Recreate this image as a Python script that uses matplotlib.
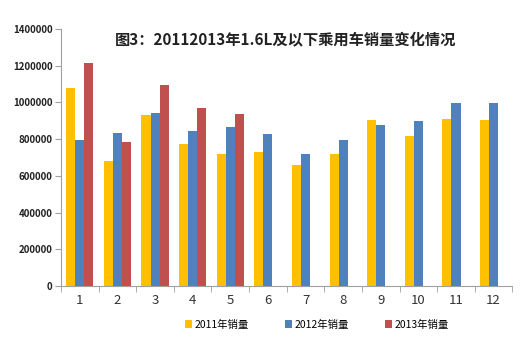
import numpy as np
import matplotlib
matplotlib.use("Agg")
import matplotlib.pyplot as plt

plt.rcParams['font.family'] = ['Noto Sans CJK SC', 'DejaVu Sans']

# Monatswerte
months = [str(m) for m in range(1, 13)]
sales2011 = [1077000, 681000, 933000, 775000, 717000, 731000,
             657000, 721000, 902000, 819000, 910000, 904000]
sales2012 = [795000, 832000, 941000, 843000, 864000, 828000,
             719000, 793000, 877000, 897000, 995000, 998000]
sales2013 = [1215000, 786000, 1097000, 971000, 937000]
labels = ["2011年销量", "2012年销量", "2013年销量"]
yticks = [0, 200000, 400000, 600000, 800000, 1000000, 1200000, 1400000]

fig = plt.figure(figsize=(5.28, 3.52), dpi=100)
ax = fig.add_axes([0.1155, 0.1875, 0.855, 0.73])

x = np.arange(len(months))
w = 0.24
ax.bar(x - w, sales2011, w, color="#FFC000", label=labels[0])
ax.bar(x, sales2012, w, color="#4F81BD", label=labels[1])
ax.bar(np.arange(len(sales2013)) + w, sales2013, w, color="#C0504D", label=labels[2])

ax.set_xlim(-0.5, len(months) - 0.5)
ax.set_ylim(0, 1400000)
ax.set_yticks(yticks)
ax.set_yticklabels([str(v) for v in yticks], fontsize=7, fontweight="bold", color="#222222")
ax.set_xticks(x)
ax.set_xticklabels(months, fontsize=9.5, color="#333333")
ax.tick_params(axis="x", length=0, pad=6)
ax.set_xticks(np.arange(-0.5, len(months)), minor=True)
ax.tick_params(axis="x", which="minor", length=4, color="#A0A0A0")
ax.tick_params(axis="y", length=4, color="#A0A0A0", pad=2)

for s in ["top", "right"]:
    ax.spines[s].set_visible(False)
for s in ["left", "bottom"]:
    ax.spines[s].set_color("#A0A0A0")

fig.text(0.54, 0.885, "图3：20112013年1.6L及以下乘用车销量变化情况",
         ha="center", va="center", fontsize=11, fontweight="bold", color="#222222")

leg = fig.legend(loc="center", bbox_to_anchor=(0.6, 0.078), ncol=3, frameon=False,
                 fontsize=7.5, handlelength=0.7, handleheight=0.7, handletextpad=0.2,
                 columnspacing=3.5)

fig.savefig("out.png", dpi=100)
